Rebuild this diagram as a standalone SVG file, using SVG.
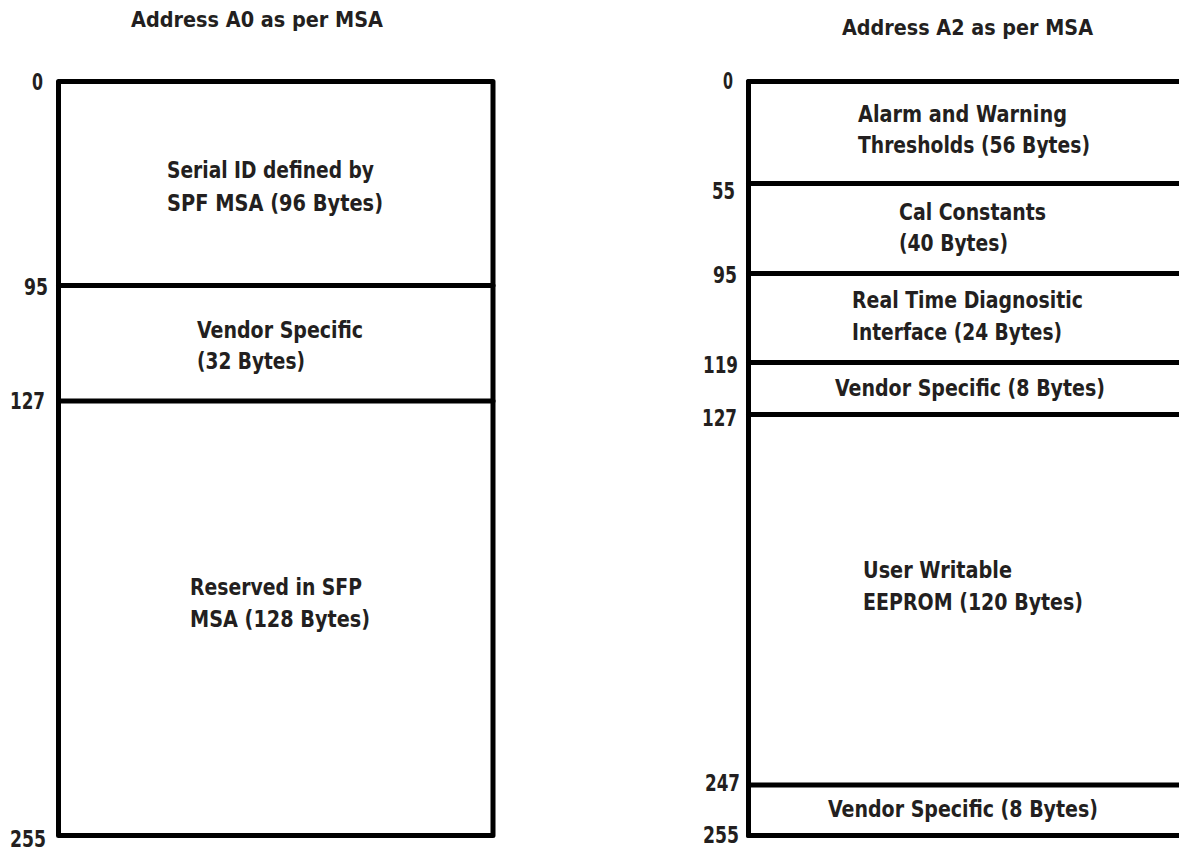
<svg xmlns="http://www.w3.org/2000/svg" width="1179" height="852" viewBox="0 0 1179 852">
<style>
.t{font-family:"Liberation Sans Narrow","DejaVu Sans Condensed","Roboto Condensed","Liberation Sans",sans-serif;font-weight:bold;font-size:23px;fill:#231f20}
.h{font-size:21px}
.ln{stroke:#000;stroke-width:5;fill:none;stroke-linejoin:round;stroke-linecap:round}
</style>
<rect width="1179" height="852" fill="#fff"/>
<g id="titles">
<text class="t h" x="131" y="27" textLength="252" lengthAdjust="spacingAndGlyphs">Address A0 as per MSA</text>
<text class="t h" x="842" y="35" textLength="251" lengthAdjust="spacingAndGlyphs">Address A2 as per MSA</text>
</g>
<g id="a0-map">
<rect class="ln" x="58.5" y="81.5" width="434.5" height="754"/>
<line class="ln" x1="58.5" y1="285.5" x2="493" y2="285.5"/>
<line class="ln" x1="58.5" y1="401" x2="493" y2="401"/>
<text class="t" x="32" y="90" textLength="11" lengthAdjust="spacingAndGlyphs">0</text>
<text class="t" x="24" y="295" textLength="24" lengthAdjust="spacingAndGlyphs">95</text>
<text class="t" x="10" y="409" textLength="35" lengthAdjust="spacingAndGlyphs">127</text>
<text class="t" x="10" y="847" textLength="36" lengthAdjust="spacingAndGlyphs">255</text>
</g>
<g id="a0-serial-id">
<text class="t" x="167" y="178" textLength="207" lengthAdjust="spacingAndGlyphs">Serial ID defined by</text>
<text class="t" x="167" y="211" textLength="216" lengthAdjust="spacingAndGlyphs">SPF MSA (96 Bytes)</text>
</g>
<g id="a0-vendor">
<text class="t" x="197" y="338" textLength="166" lengthAdjust="spacingAndGlyphs">Vendor Specific</text>
<text class="t" x="197" y="369" textLength="108" lengthAdjust="spacingAndGlyphs">(32 Bytes)</text>
</g>
<g id="a0-reserved">
<text class="t" x="190" y="595" textLength="172" lengthAdjust="spacingAndGlyphs">Reserved in SFP</text>
<text class="t" x="190" y="627" textLength="180" lengthAdjust="spacingAndGlyphs">MSA (128 Bytes)</text>
</g>
<g id="a2-map">
<line class="ln" x1="748.5" y1="81.5" x2="748.5" y2="835.5"/>
<line class="ln" x1="748.5" y1="81.5" x2="1182" y2="81.5"/>
<line class="ln" x1="748.5" y1="183.5" x2="1182" y2="183.5"/>
<line class="ln" x1="748.5" y1="273.5" x2="1182" y2="273.5"/>
<line class="ln" x1="748.5" y1="362.5" x2="1182" y2="362.5"/>
<line class="ln" x1="748.5" y1="414.5" x2="1182" y2="414.5"/>
<line class="ln" x1="748.5" y1="785" x2="1182" y2="785"/>
<line class="ln" x1="748.5" y1="835.5" x2="1182" y2="835.5"/>
<text class="t" x="723" y="89" textLength="10" lengthAdjust="spacingAndGlyphs">0</text>
<text class="t" x="712" y="199" textLength="23" lengthAdjust="spacingAndGlyphs">55</text>
<text class="t" x="713" y="283" textLength="24" lengthAdjust="spacingAndGlyphs">95</text>
<text class="t" x="703" y="373" textLength="35" lengthAdjust="spacingAndGlyphs">119</text>
<text class="t" x="702" y="426" textLength="35" lengthAdjust="spacingAndGlyphs">127</text>
<text class="t" x="705" y="791" textLength="35" lengthAdjust="spacingAndGlyphs">247</text>
<text class="t" x="703" y="843" textLength="36" lengthAdjust="spacingAndGlyphs">255</text>
</g>
<g id="a2-thresholds">
<text class="t" x="858" y="122" textLength="209" lengthAdjust="spacingAndGlyphs">Alarm and Warning</text>
<text class="t" x="858" y="153" textLength="232" lengthAdjust="spacingAndGlyphs">Thresholds (56 Bytes)</text>
</g>
<g id="a2-cal">
<text class="t" x="899" y="220" textLength="147" lengthAdjust="spacingAndGlyphs">Cal Constants</text>
<text class="t" x="899" y="251" textLength="109" lengthAdjust="spacingAndGlyphs">(40 Bytes)</text>
</g>
<g id="a2-diagnostic">
<text class="t" x="852" y="308" textLength="231" lengthAdjust="spacingAndGlyphs">Real Time Diagnositic</text>
<text class="t" x="852" y="340" textLength="210" lengthAdjust="spacingAndGlyphs">Interface (24 Bytes)</text>
</g>
<g id="a2-vendor1">
<text class="t" x="835" y="396" textLength="270" lengthAdjust="spacingAndGlyphs">Vendor Specific (8 Bytes)</text>
</g>
<g id="a2-eeprom">
<text class="t" x="863" y="578" textLength="149" lengthAdjust="spacingAndGlyphs">User Writable</text>
<text class="t" x="863" y="610" textLength="220" lengthAdjust="spacingAndGlyphs">EEPROM (120 Bytes)</text>
</g>
<g id="a2-vendor2">
<text class="t" x="828" y="817" textLength="270" lengthAdjust="spacingAndGlyphs">Vendor Specific (8 Bytes)</text>
</g>
<g id="connectors"></g>
</svg>
